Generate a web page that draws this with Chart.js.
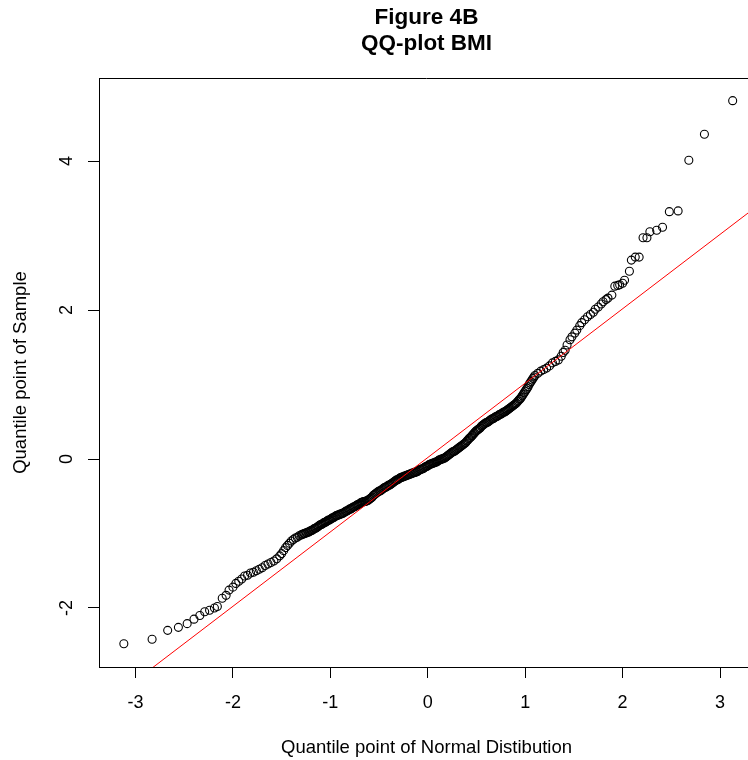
<!DOCTYPE html>
<html>
<head>
<meta charset="utf-8">
<script src="https://cdn.jsdelivr.net/npm/chart.js@4"></script>
<style>
  html, body { margin: 0; padding: 0; background: #fff; overflow: hidden; }
  canvas { display: block; }
</style>
</head>
<body>
<!-- the plot region runs a little past the right edge of the window, as in the original -->
<canvas id="qqChart" width="756" height="760"></canvas>
<script>
// theoretical normal quantiles (x) and sample quantiles (y)
const theoretical = [
  // lower tail
  -3.12, -2.83, -2.67, -2.56, -2.47, -2.40, -2.34, -2.29, -2.24, -2.19,
  -2.16, -2.11, -2.07, -2.04, -2.00, -1.97, -1.94, -1.91, -1.88, -1.85,
  -1.82, -1.79, -1.76, -1.73, -1.70, -1.67, -1.64, -1.61, -1.58, -1.55,
  -1.52, -1.50, -1.48, -1.46, -1.44, -1.42, -1.40, -1.38, -1.36, -1.34,
  -1.32,
  // dense middle
  -1.30, -1.29, -1.28, -1.27, -1.26, -1.25, -1.24, -1.23, -1.22, -1.21,
  -1.20, -1.19, -1.18, -1.17, -1.16, -1.15, -1.14, -1.13, -1.12, -1.11,
  -1.10, -1.09, -1.08, -1.07, -1.06, -1.05, -1.04, -1.03, -1.02, -1.01,
  -1.00, -0.99, -0.98, -0.97, -0.96, -0.95, -0.94, -0.93, -0.92, -0.91,
  -0.90, -0.89, -0.88, -0.87, -0.86, -0.85, -0.84, -0.83, -0.82, -0.81,
  -0.80, -0.79, -0.78, -0.77, -0.76, -0.75, -0.74, -0.73, -0.72, -0.71,
  -0.70, -0.69, -0.68, -0.67, -0.66, -0.65, -0.64, -0.63, -0.62, -0.61,
  -0.60, -0.59, -0.58, -0.57, -0.56, -0.55, -0.54, -0.53, -0.52, -0.51,
  -0.50, -0.49, -0.48, -0.47, -0.46, -0.45, -0.44, -0.43, -0.42, -0.41,
  -0.40, -0.39, -0.38, -0.37, -0.36, -0.35, -0.34, -0.33, -0.32, -0.31,
  -0.30, -0.29, -0.28, -0.27, -0.26, -0.25, -0.24, -0.23, -0.22, -0.21,
  -0.20, -0.19, -0.18, -0.17, -0.16, -0.15, -0.14, -0.13, -0.12, -0.11,
  -0.10, -0.09, -0.08, -0.07, -0.06, -0.05, -0.04, -0.03, -0.02, -0.01,
  0.00, 0.01, 0.02, 0.03, 0.04, 0.05, 0.06, 0.07, 0.08, 0.09,
  0.10, 0.11, 0.12, 0.13, 0.14, 0.15, 0.16, 0.17, 0.18, 0.19,
  0.20, 0.21, 0.22, 0.23, 0.24, 0.25, 0.26, 0.27, 0.28, 0.29,
  0.30, 0.31, 0.32, 0.33, 0.34, 0.35, 0.36, 0.37, 0.38, 0.39,
  0.40, 0.41, 0.42, 0.43, 0.44, 0.45, 0.46, 0.47, 0.48, 0.49,
  0.50, 0.51, 0.52, 0.53, 0.54, 0.55, 0.56, 0.57, 0.58, 0.59,
  0.60, 0.61, 0.62, 0.63, 0.64, 0.65, 0.66, 0.67, 0.68, 0.69,
  0.70, 0.71, 0.72, 0.73, 0.74, 0.75, 0.76, 0.77, 0.78, 0.79,
  0.80, 0.81, 0.82, 0.83, 0.84, 0.85, 0.86, 0.87, 0.88, 0.89,
  0.90, 0.91, 0.92, 0.93, 0.94, 0.95, 0.96, 0.97, 0.98, 0.99,
  1.00, 1.01, 1.02, 1.03, 1.04, 1.05, 1.06, 1.07, 1.08, 1.09,
  1.10,
  // upper tail
  1.13, 1.16, 1.19, 1.22, 1.25, 1.28, 1.31, 1.34, 1.37, 1.39,
  1.41, 1.43, 1.46, 1.48, 1.51, 1.53, 1.56, 1.58, 1.61, 1.64,
  1.67, 1.70, 1.72, 1.75, 1.78, 1.80, 1.83, 1.85, 1.89, 1.92,
  1.95, 1.97, 2.00, 2.02, 2.07, 2.09, 2.13, 2.17, 2.21, 2.25,
  2.28, 2.35, 2.41, 2.48, 2.57, 2.68, 2.84, 3.13
];
const sample = [
  // lower tail
  -2.48, -2.42, -2.30, -2.26, -2.21, -2.15, -2.10, -2.05, -2.03, -2.00,
  -1.98, -1.87, -1.83, -1.76, -1.72, -1.67, -1.64, -1.61, -1.57, -1.56,
  -1.53, -1.52, -1.50, -1.48, -1.46, -1.43, -1.41, -1.39, -1.37, -1.34,
  -1.30, -1.27, -1.23, -1.19, -1.16, -1.13, -1.10, -1.08, -1.06, -1.05,
  -1.03,
  // dense middle
  -1.02, -1.01, -1.01, -1.00, -1.00, -0.99, -0.99, -0.98, -0.98, -0.97,
  -0.96, -0.96, -0.95, -0.94, -0.93, -0.93, -0.92, -0.91, -0.90, -0.89,
  -0.88, -0.88, -0.87, -0.86, -0.85, -0.85, -0.84, -0.83, -0.82, -0.82,
  -0.81, -0.80, -0.79, -0.79, -0.78, -0.77, -0.76, -0.76, -0.75, -0.75,
  -0.74, -0.74, -0.73, -0.73, -0.72, -0.71, -0.70, -0.70, -0.69, -0.68,
  -0.67, -0.67, -0.66, -0.65, -0.64, -0.64, -0.63, -0.62, -0.61, -0.61,
  -0.60, -0.59, -0.58, -0.58, -0.57, -0.57, -0.57, -0.56, -0.56, -0.55,
  -0.54, -0.53, -0.52, -0.51, -0.49, -0.48, -0.47, -0.46, -0.45, -0.44,
  -0.43, -0.43, -0.42, -0.41, -0.40, -0.39, -0.38, -0.38, -0.37, -0.36,
  -0.35, -0.35, -0.34, -0.33, -0.32, -0.31, -0.30, -0.29, -0.28, -0.28,
  -0.27, -0.26, -0.25, -0.25, -0.24, -0.24, -0.23, -0.23, -0.22, -0.22,
  -0.21, -0.21, -0.20, -0.20, -0.19, -0.19, -0.18, -0.18, -0.17, -0.17,
  -0.16, -0.15, -0.14, -0.14, -0.13, -0.13, -0.12, -0.11, -0.10, -0.10,
  -0.09, -0.08, -0.07, -0.07, -0.06, -0.06, -0.05, -0.05, -0.04, -0.04,
  -0.03, -0.02, -0.01, -0.01, 0.00, 0.00, 0.01, 0.01, 0.02, 0.03,
  0.04, 0.05, 0.06, 0.07, 0.08, 0.09, 0.10, 0.10, 0.11, 0.12,
  0.13, 0.14, 0.15, 0.16, 0.17, 0.18, 0.19, 0.20, 0.21, 0.22,
  0.24, 0.25, 0.27, 0.28, 0.29, 0.31, 0.32, 0.34, 0.35, 0.37,
  0.38, 0.39, 0.40, 0.41, 0.42, 0.44, 0.45, 0.46, 0.47, 0.48,
  0.49, 0.49, 0.50, 0.51, 0.52, 0.53, 0.54, 0.54, 0.55, 0.56,
  0.57, 0.57, 0.58, 0.59, 0.60, 0.60, 0.61, 0.62, 0.63, 0.63,
  0.64, 0.65, 0.66, 0.67, 0.68, 0.69, 0.70, 0.71, 0.72, 0.73,
  0.74, 0.75, 0.77, 0.78, 0.80, 0.81, 0.83, 0.85, 0.87, 0.89,
  0.91, 0.93, 0.95, 0.97, 1.00, 1.02, 1.04, 1.06, 1.08, 1.10,
  1.12,
  // upper tail
  1.15, 1.18, 1.20, 1.22, 1.25, 1.29, 1.31, 1.33, 1.38, 1.43,
  1.46, 1.53, 1.60, 1.64, 1.69, 1.73, 1.79, 1.83, 1.87, 1.91,
  1.94, 1.97, 2.01, 2.04, 2.08, 2.11, 2.14, 2.16, 2.20, 2.32,
  2.33, 2.34, 2.36, 2.40, 2.52, 2.67, 2.71, 2.71, 2.97, 2.97,
  3.05, 3.07, 3.11, 3.32, 3.33, 4.01, 4.36, 4.81
];
// reference line (qqline), end points at the plot edges
const lineX = [-3.375, 3.349];
const lineY = [-3.350, 3.363];

const xTicks = [-3, -2, -1, 0, 1, 2, 3];
const yTicks = [-2, 0, 2, 4];

const FONT = '"Liberation Sans", Arial, sans-serif';

// top edge of the box and rotated y tick labels, like R draws them
const rBox = {
  id: 'rBox',
  afterDraw(chart) {
    const ctx = chart.ctx;
    const a = chart.chartArea;
    const ys = chart.scales.y;
    ctx.save();
    ctx.strokeStyle = '#000';
    ctx.lineWidth = 1;
    ctx.beginPath();
    ctx.moveTo(a.left, Math.round(a.top) + 0.5);
    ctx.lineTo(a.right, Math.round(a.top) + 0.5);
    ctx.stroke();
    ctx.fillStyle = '#000';
    ctx.font = '18px ' + FONT;
    ctx.textAlign = 'center';
    ctx.textBaseline = 'middle';
    yTicks.forEach(v => {
      const py = ys.getPixelForValue(v);
      ctx.save();
      ctx.translate(67, py);
      ctx.rotate(-Math.PI / 2);
      ctx.fillText(String(v), 0, 0);
      ctx.restore();
    });
    ctx.restore();
  }
};

new Chart(document.getElementById('qqChart'), {
  type: 'scatter',
  data: {
    datasets: [
      {
        type: 'line',
        data: lineX.map((x, i) => ({ x: x, y: lineY[i] })),
        borderColor: '#ff0000',
        borderWidth: 1,
        pointRadius: 0,
        fill: false,
        order: 0
      },
      {
        data: theoretical.map((x, i) => ({ x: x, y: sample[i] })),
        pointStyle: 'circle',
        pointRadius: 4,
        pointBorderWidth: 1.1,
        borderColor: '#000',
        backgroundColor: 'rgba(0,0,0,0)',
        order: 1
      }
    ]
  },
  options: {
    responsive: false,
    animation: false,
    devicePixelRatio: 1,
    layout: { autoPadding: false, padding: { left: 0, right: 2, top: 0, bottom: 0 } },
    plugins: {
      legend: { display: false },
      tooltip: { enabled: false },
      title: {
        display: true,
        fullSize: false,
        text: ['Figure 4B', 'QQ-plot BMI'],
        color: '#000',
        font: { family: FONT, size: 22.5, weight: 'bold', lineHeight: 1.156 },
        padding: { top: 5, bottom: 21 }
      }
    },
    scales: {
      x: {
        type: 'linear',
        position: 'bottom',
        min: -3.375,
        max: 3.349,
        afterBuildTicks: s => { s.ticks = xTicks.map(v => ({ value: v })); },
        afterFit: s => { s.height = 93; s.paddingLeft = 0; s.paddingRight = 0; },
        grid: { drawOnChartArea: false, drawTicks: true, tickLength: 11, color: '#000', lineWidth: 1 },
        border: { display: true, color: '#000', width: 1 },
        ticks: { color: '#000', font: { family: FONT, size: 18 }, padding: 14, maxRotation: 0 },
        title: {
          display: true,
          text: 'Quantile point of Normal Distibution',
          color: '#000',
          font: { family: FONT, size: 18.5 },
          padding: { top: 0, bottom: 1 }
        }
      },
      y: {
        type: 'linear',
        position: 'left',
        min: -2.792,
        max: 5.114,
        afterBuildTicks: s => { s.ticks = yTicks.map(v => ({ value: v })); },
        afterFit: s => { s.width = 99; },
        grid: { drawOnChartArea: false, drawTicks: true, tickLength: 11, color: '#000', lineWidth: 1 },
        border: { display: true, color: '#000', width: 1 },
        ticks: { display: false },
        title: {
          display: true,
          text: 'Quantile point of Sample',
          color: '#000',
          font: { family: FONT, size: 18.5 },
          padding: { top: 10, bottom: 0 }
        }
      }
    }
  },
  plugins: [rBox]
});
</script>
</body>
</html>
